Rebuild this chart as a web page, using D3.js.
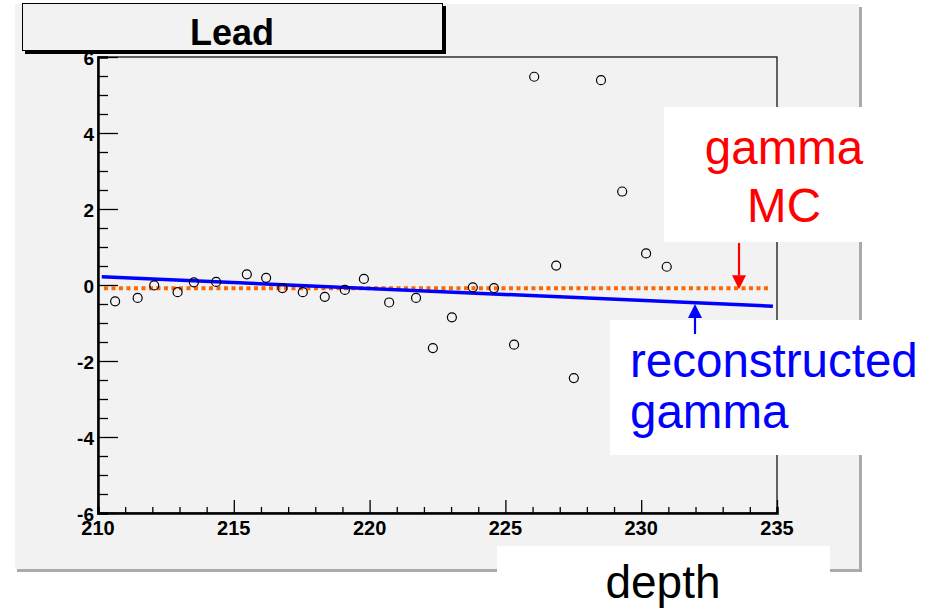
<!DOCTYPE html>
<html>
<head>
<meta charset="utf-8">
<script src="https://cdn.jsdelivr.net/npm/d3@7"></script>
<style>
  html, body { margin: 0; padding: 0; background: #ffffff; }
  svg { display: block; }
  text { font-family: "Liberation Sans", Arial, Helvetica, sans-serif; }
</style>
</head>
<body>
<svg id="chart" width="935" height="611"></svg>
<script>
// Measured points: depth vs. residual
const depth = [210.63, 211.46, 212.07, 212.93, 213.53, 214.35, 215.48, 216.19, 216.79, 217.54,
               218.35, 219.09, 219.79, 220.72, 221.71, 222.33, 223.03, 223.80, 224.58, 225.32,
               226.06, 226.87, 227.52, 228.52, 229.30, 230.18, 230.94];
const residual = [-0.43, -0.34, -0.01, -0.19, 0.07, 0.08, 0.28, 0.19, -0.08, -0.19,
                  -0.31, -0.13, 0.16, -0.46, -0.34, -1.66, -0.85, -0.06, -0.08, -1.57,
                  5.48, 0.51, -2.45, 5.39, 2.46, 0.83, 0.48];

// Reference lines: gamma MC (flat) and the reconstructed-gamma fit
const gammaMC = { x: [210.22, 234.74], y: [-0.085, -0.085] };
const reconstructed = { x: [210.14, 234.85], y: [0.216, -0.558] };

const xDomain = [210, 235];
const yDomain = [-6, 6];
const xMajorTicks = [210, 215, 220, 225, 230, 235];
const yMajorTicks = [-6, -4, -2, 0, 2, 4, 6];

const titleText = "Lead";
const xTitle = "depth";
const mcLabel = ["gamma", "MC"];
const recoLabel = ["reconstructed", "gamma"];

const svg = d3.select("#chart");

// Canvas frame with shadow
svg.append("rect").attr("x", 17).attr("y", 7).attr("width", 845).attr("height", 565).attr("fill", "#aaaaaa");
svg.append("rect").attr("x", 14).attr("y", 4).attr("width", 845).attr("height", 565).attr("fill", "#f2f2f2");
svg.append("line").attr("x1", 14.5).attr("x2", 14.5).attr("y1", 4).attr("y2", 569).attr("stroke", "#ffffff").attr("stroke-width", 1);

const X0 = 98, X1 = 777, Y0 = 57, Y1 = 513;
const x = d3.scaleLinear().domain(xDomain).range([X0, X1]);
const y = d3.scaleLinear().domain(yDomain).range([Y1, Y0]);

// Plot frame
svg.append("rect").attr("x", X0).attr("y", Y0).attr("width", X1 - X0).attr("height", Y1 - Y0)
  .attr("fill", "#f2f2f2").attr("stroke", "#000").attr("stroke-width", 1.2);

// Y axis: inward ticks, major every 2, minor every 0.5
const yAxis = d3.axisRight(y).tickValues(d3.range(-6, 6.01, 0.5)).tickSize(10).tickFormat("");
const gy = svg.append("g").attr("transform", `translate(${X0},0)`).call(yAxis);
gy.select(".domain").attr("stroke-width", 2.5);
gy.selectAll(".tick line").attr("stroke", "#000").attr("stroke-width", 1.3)
  .attr("x2", d => (Math.abs(d % 2) < 1e-6 ? 20 : 10));
svg.append("g").selectAll("text").data(yMajorTicks).join("text")
  .attr("x", X0 - 4).attr("y", d => y(d) + 1.5)
  .attr("text-anchor", "end").attr("dominant-baseline", "central")
  .attr("font-size", 19).attr("font-weight", "bold").text(d => d);

// X axis: upward ticks, major every 5, minor every 1
const xAxis = d3.axisTop(x).tickValues(d3.range(210, 235.01, 1)).tickSize(6).tickFormat("");
const gx = svg.append("g").attr("transform", `translate(0,${Y1})`).call(xAxis);
gx.select(".domain").attr("stroke-width", 2.5);
gx.selectAll(".tick line").attr("stroke", "#000").attr("stroke-width", 1.3)
  .attr("y2", d => (d % 5 === 0 ? -13 : -6));
svg.append("g").selectAll("text").data(xMajorTicks).join("text")
  .attr("x", d => x(d)).attr("y", 535)
  .attr("text-anchor", "middle")
  .attr("font-size", 20).attr("font-weight", "bold").text(d => d);

// gamma MC: dotted orange line
svg.append("line")
  .attr("x1", x(gammaMC.x[0])).attr("x2", x(gammaMC.x[1]))
  .attr("y1", y(gammaMC.y[0])).attr("y2", y(gammaMC.y[1]))
  .attr("stroke", "#ff6600").attr("stroke-width", 4).attr("stroke-dasharray", "4,3.5");

// reconstructed gamma: solid blue line
svg.append("line")
  .attr("x1", x(reconstructed.x[0])).attr("x2", x(reconstructed.x[1]))
  .attr("y1", y(reconstructed.y[0])).attr("y2", y(reconstructed.y[1]))
  .attr("stroke", "#0000ff").attr("stroke-width", 3.5);

// Data markers
svg.append("g").selectAll("circle").data(depth).join("circle")
  .attr("cx", d => x(d)).attr("cy", (d, i) => y(residual[i]))
  .attr("r", 4.5).attr("fill", "none").attr("stroke", "#000").attr("stroke-width", 1.2);

// Title box with shadow
svg.append("rect").attr("x", 25).attr("y", 6).attr("width", 421).attr("height", 48).attr("fill", "#000");
svg.append("rect").attr("x", 22.5).attr("y", 3.5).attr("width", 420).attr("height", 47)
  .attr("fill", "#f2f2f2").attr("stroke", "#000").attr("stroke-width", 1);
svg.append("text").attr("x", 232).attr("y", 45).attr("text-anchor", "middle")
  .attr("font-size", 36).attr("font-weight", "bold").text(titleText);

// Arrowhead helper
function arrow(cx, tailY, tipY, color) {
  const dir = tipY > tailY ? 1 : -1;
  const headLen = 14, halfW = 7;
  svg.append("line").attr("x1", cx).attr("x2", cx).attr("y1", tailY).attr("y2", tipY - dir * headLen)
    .attr("stroke", color).attr("stroke-width", 2.2);
  svg.append("path")
    .attr("d", `M${cx},${tipY} L${cx - halfW},${tipY - dir * headLen} L${cx + halfW},${tipY - dir * headLen} Z`)
    .attr("fill", color);
}

// gamma MC annotation
svg.append("rect").attr("x", 664).attr("y", 107).attr("width", 198).attr("height", 135).attr("fill", "#fff");
svg.append("g").selectAll("text").data(mcLabel).join("text")
  .attr("x", 784).attr("y", (d, i) => 164 + i * 58)
  .attr("text-anchor", "middle").attr("font-size", 47.5).attr("fill", "#ff0000").text(d => d);
arrow(739, 243, y(gammaMC.y[0]) + 1, "#ff0000");

// reconstructed gamma annotation
svg.append("rect").attr("x", 610).attr("y", 320).attr("width", 325).attr("height", 135).attr("fill", "#fff");
svg.append("g").selectAll("text").data(recoLabel).join("text")
  .attr("x", 630).attr("y", (d, i) => 377 + i * 51)
  .attr("text-anchor", "start").attr("font-size", 47.5).attr("fill", "#0000ff").text(d => d);
arrow(695, 334, 304, "#0000ff");

// X-axis title box
svg.append("rect").attr("x", 497).attr("y", 546).attr("width", 333).attr("height", 65).attr("fill", "#fff");
svg.append("text").attr("x", 663).attr("y", 598).attr("text-anchor", "middle")
  .attr("font-size", 46).attr("fill", "#000").text(xTitle);
</script>
</body>
</html>
